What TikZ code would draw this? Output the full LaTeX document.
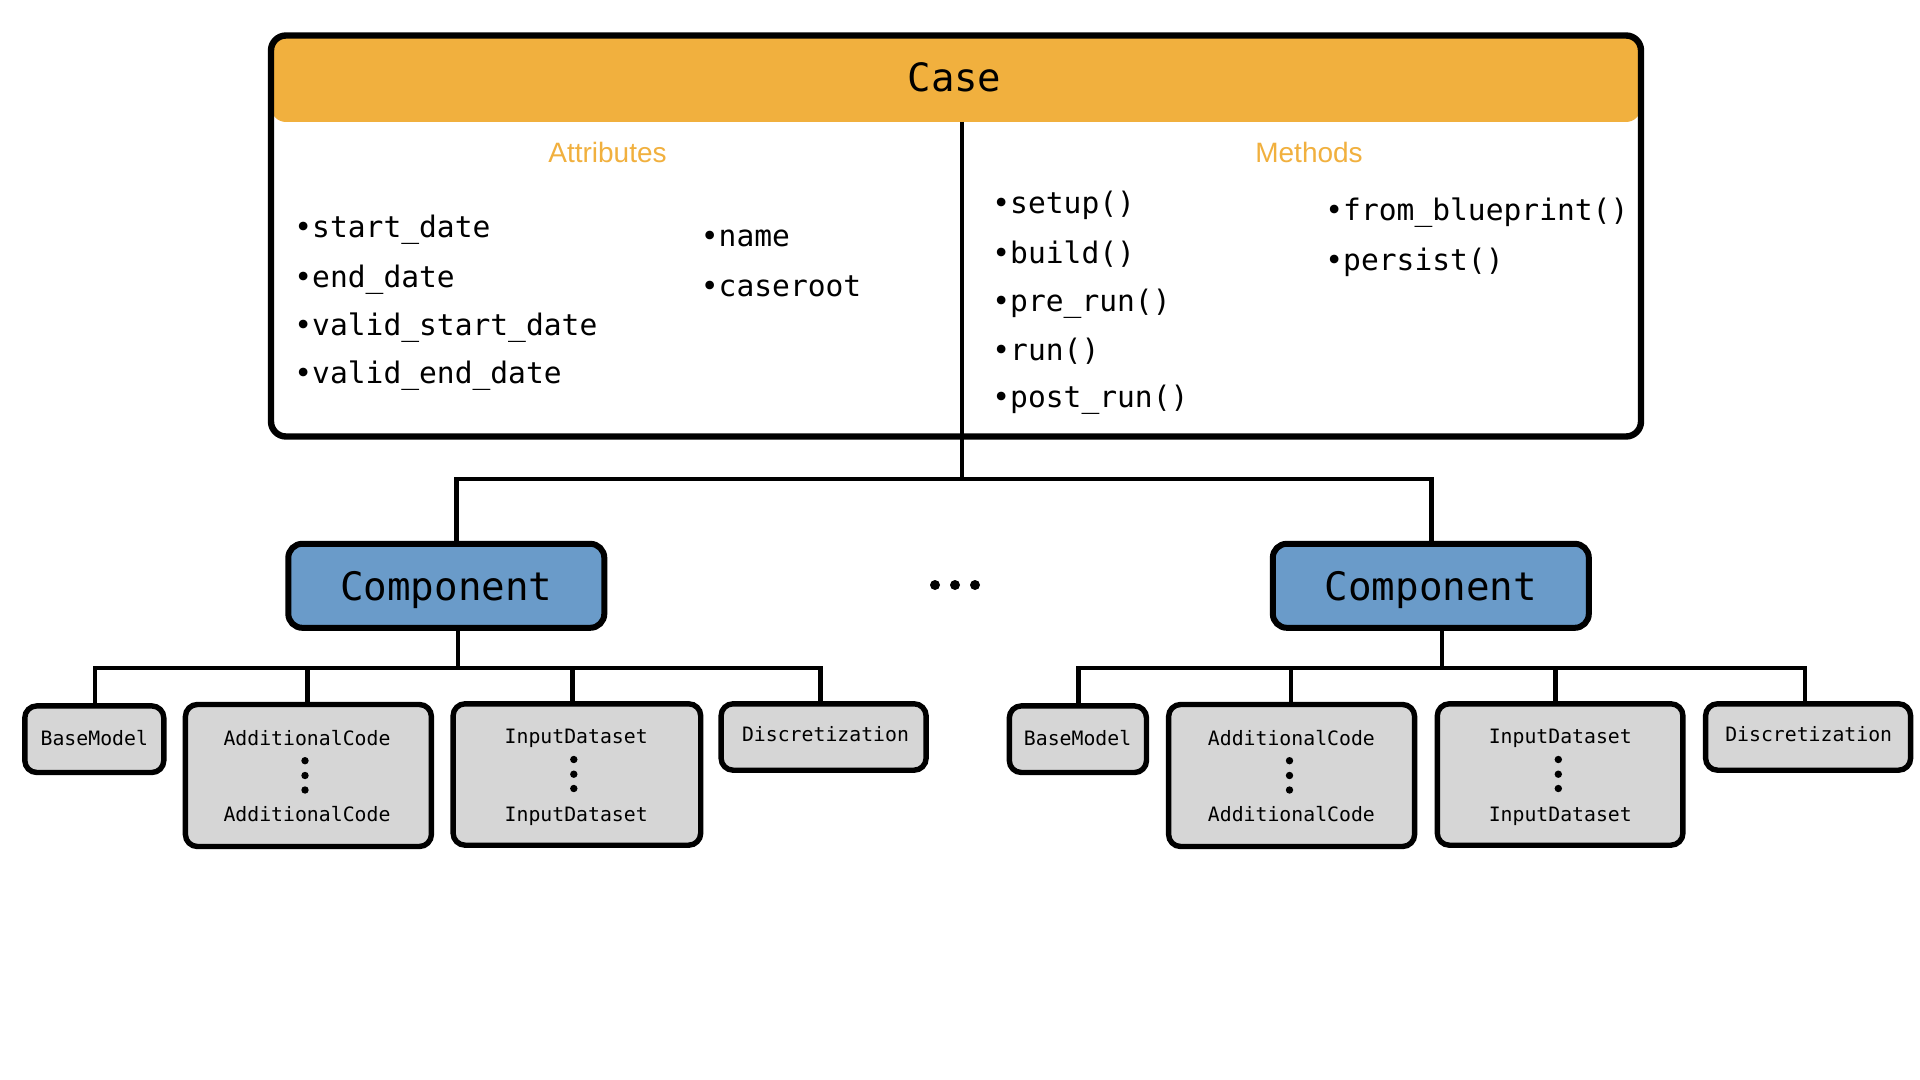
\documentclass[tikz,border=0pt]{standalone}
\usepackage{fontspec}
\newfontfamily\monof{DejaVu Sans Mono}
\newfontfamily\sansf{Liberation Sans}
\definecolor{caseorange}{RGB}{241,176,62}
\definecolor{compblue}{RGB}{106,155,201}
\definecolor{subgray}{RGB}{214,214,214}
\begin{document}
\begin{tikzpicture}[x=0.5pt,y=-0.5pt,
  casebox/.style={draw=black, line width=3.2pt, rounded corners=7.5pt, minimum width=685pt, minimum height=200.5pt, inner sep=0pt},
  casetitle/.style={inner sep=0pt, text depth=0pt, font=\monof\fontsize{19.5pt}{22pt}\selectfont},
  sechead/.style={anchor=base, inner sep=0pt, text=caseorange, font=\sansf\fontsize{14pt}{16pt}\selectfont},
  item/.style={anchor=base west, inner sep=0pt, font=\monof\fontsize{14.8pt}{17pt}\selectfont},
  compbox/.style={draw=black, fill=compblue, line width=3pt, rounded corners=7pt, minimum width=158pt, minimum height=42pt, inner sep=0pt, text depth=0pt, font=\monof\fontsize{19.6pt}{22pt}\selectfont},
  subbox/.style={draw=black, fill=subgray, line width=2.7pt, rounded corners=6pt, inner sep=0pt},
  subtext/.style={anchor=base, inner sep=0pt, font=\monof\fontsize{9.9pt}{12pt}\selectfont},
  conn/.style={draw=black, line width=2.45pt},
  vdot/.style={fill=black},
]
\fill[white] (0,0) rectangle (1920,1080);
\useasboundingbox (0,0) rectangle (1920,1080);

% ---------- Case ----------
\fill[caseorange, rounded corners=7.5pt] (271,35) rectangle (1641,122);
\node[casebox] (case) at (956,236) {};
\node[casetitle] (title) at (954.5,77.5) {Case};
\node[sechead] (attr) at (607.5,163) {Attributes};
\node[sechead] (meth) at (1309,163) {Methods};

\node[item] (a1) at (294,237.3) {•start\_date};
\node[item] (a2) at (294,287.7) {•end\_date};
\node[item] (a3) at (294,335.3) {•valid\_start\_date};
\node[item] (a4) at (294,383.3) {•valid\_end\_date};
\node[item] (a5) at (700.5,247) {•name};
\node[item] (a6) at (700.5,297) {•caseroot};

\node[item] (m1) at (992,213.3) {•setup()};
\node[item] (m2) at (992,263.3) {•build()};
\node[item] (m3) at (992,311.7) {•pre\_run()};
\node[item] (m4) at (992,360) {•run()};
\node[item] (m5) at (992,407.7) {•post\_run()};
\node[item] (m6) at (1325,220.7) {•from\_blueprint()};
\node[item] (m7) at (1325,270.5) {•persist()};

% ---------- Components ----------
\node[compbox] (c1) at (446.3,585.8) {Component};
\node[compbox] (c2) at (1430.8,585.8) {Component};

\fill (935,585) circle[radius=5];
\fill (955,585) circle[radius=5];
\fill (975,585) circle[radius=5];

% top connectors
\coordinate (hb) at (962,122);
\coordinate (tj) at (962,479);
\coordinate (t1) at (456.5,479);
\coordinate (t2) at (1431.5,479);
\draw[conn] (hb) -- (tj);
\draw[conn] (t1 |- c1.north) -- (t1) -- (t2) -- (t2 |- c2.north);

% ---------- Sub boxes, left ----------
\node[subbox, minimum width=69.5pt, minimum height=33.3pt] (bm1) at (94.3,739.2) {};
\node[subbox, minimum width=123pt, minimum height=71pt] (ac1) at (308.4,775.5) {};
\node[subbox, minimum width=123.8pt, minimum height=70.7pt] (in1) at (576.9,774.5) {};
\node[subbox, minimum width=102.5pt, minimum height=33.2pt] (di1) at (823.6,737) {};

\node[subtext] (bm1t) at (94.3,745) {BaseModel};
\node[subtext] (ac1a) at (307,745) {AdditionalCode};
\node[subtext] (ac1b) at (307,821.7) {AdditionalCode};
\node[subtext] (in1a) at (576.2,743.5) {InputDataset};
\node[subtext] (in1b) at (576.2,821.5) {InputDataset};
\node[subtext] (di1t) at (825.5,741.7) {Discretization};
\foreach \yy in {760.7,775.5,790} {\fill[vdot] (305,\yy) circle[radius=3.7];}
\foreach \yy in {759.5,774.2,788.5} {\fill[vdot] (573.8,\yy) circle[radius=3.7];}

\coordinate (cb1) at (458,668);
\coordinate (l1) at (95,668);
\coordinate (l2) at (307.4,668);
\coordinate (l3) at (572.6,668);
\coordinate (l4) at (820.6,668);
\draw[conn] (cb1 |- c1.south) -- (cb1);
\draw[conn] (l1 |- bm1.north) -- (l1) -- (l4) -- (l4 |- di1.north);
\draw[conn] (l2) -- (l2 |- ac1.north);
\draw[conn] (l3) -- (l3 |- in1.north);

% ---------- Sub boxes, right ----------
\node[subbox, minimum width=68.6pt, minimum height=33.3pt] (bm2) at (1077.9,739.2) {};
\node[subbox, minimum width=123pt, minimum height=71pt] (ac2) at (1291.6,775.5) {};
\node[subbox, minimum width=122.8pt, minimum height=70.7pt] (in2) at (1560.1,774.5) {};
\node[subbox, minimum width=102.5pt, minimum height=33.2pt] (di2) at (1808.1,737) {};

\node[subtext] (bm2t) at (1077.6,745) {BaseModel};
\node[subtext] (ac2a) at (1291.4,745) {AdditionalCode};
\node[subtext] (ac2b) at (1291.4,821.7) {AdditionalCode};
\node[subtext] (in2a) at (1560.3,743.5) {InputDataset};
\node[subtext] (in2b) at (1560.3,821.5) {InputDataset};
\node[subtext] (di2t) at (1808.7,741.7) {Discretization};
\foreach \yy in {760.7,775.5,790} {\fill[vdot] (1289.5,\yy) circle[radius=3.7];}
\foreach \yy in {759.5,774.2,788.5} {\fill[vdot] (1558.3,\yy) circle[radius=3.7];}

\coordinate (cb2) at (1442,668);
\coordinate (r1) at (1078.8,668);
\coordinate (r2) at (1291,668);
\coordinate (r3) at (1555.2,668);
\coordinate (r4) at (1805,668);
\draw[conn] (cb2 |- c2.south) -- (cb2);
\draw[conn] (r1 |- bm2.north) -- (r1) -- (r4) -- (r4 |- di2.north);
\draw[conn] (r2) -- (r2 |- ac2.north);
\draw[conn] (r3) -- (r3 |- in2.north);
\end{tikzpicture}
\end{document}
